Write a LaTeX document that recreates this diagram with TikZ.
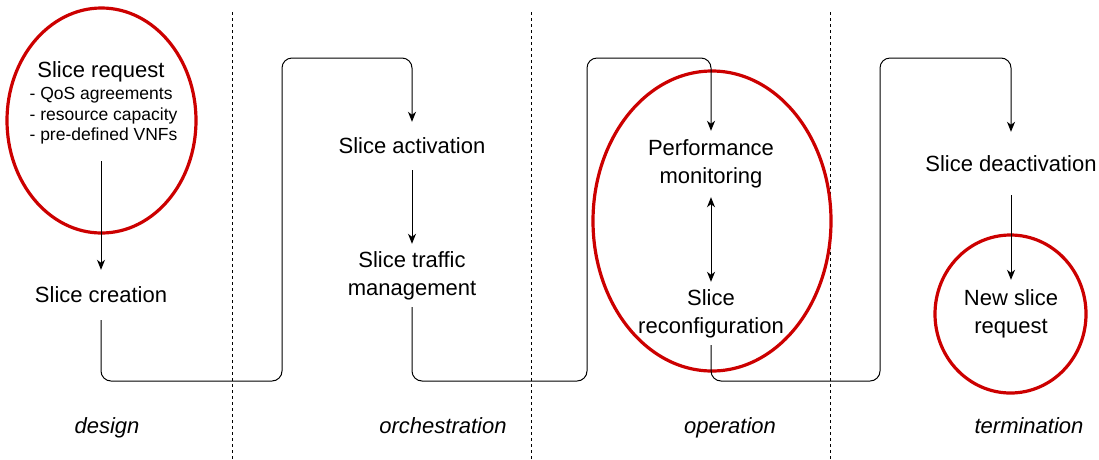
\documentclass[tikz,border=0pt]{standalone}
\usepackage{fontspec}
\setmainfont{Liberation Sans}
\usetikzlibrary{arrows.meta,shapes.geometric}
\definecolor{ringred}{RGB}{204,0,0}
\tikzset{
  stage/.style={align=center,inner sep=0pt,font=\fontsize{22}{28}\selectfont},
  ring/.style={draw=ringred,line width=3.2pt,ellipse,inner sep=0pt},
  link/.style={line width=1pt,rounded corners=10pt},
  flow/.style={link,-{Stealth[length=10pt,width=8pt,inset=3pt]}},
  dflow/.style={link,{Stealth[length=10pt,width=8pt,inset=3pt]}-{Stealth[length=10pt,width=8pt,inset=3pt]}},
  phase/.style={anchor=base,font=\fontsize{22}{26}\selectfont\itshape},
  border/.style={line width=0.9pt,dash pattern=on 3pt off 3pt}
}
\begin{document}
\begin{tikzpicture}[x=1pt,y=-1pt]
  \useasboundingbox (0,0) rectangle (1099,459);
  % phase borders
  \foreach \xx in {232,531,830} \draw[border] (\xx,12) -- (\xx,459);
  % red rings
  \node[ring,minimum width=189pt,minimum height=225pt] (reqring) at (101.5,120.5) {};
  \node[ring,minimum width=238pt,minimum height=300pt] (opring) at (712,221) {};
  \node[ring,minimum width=151pt,minimum height=158pt] (newring) at (1010.5,314) {};
  % stages
  \node[stage] (reqtitle) at (101,72) {Slice request};
  \node[align=left,inner sep=0pt,font=\fontsize{17.5}{20.5}\selectfont,minimum height=90pt] (reqlist) at (103.5,116) {- QoS agreements\\- resource capacity\\- pre-defined VNFs};
  \node[stage,minimum height=50pt] (create) at (101,295) {Slice creation};
  \node[stage,minimum height=48pt] (act) at (412,146) {Slice activation};
  \node[stage,minimum height=63pt] (traffic) at (412,275.5) {Slice traffic\\management};
  \node[stage,minimum height=66pt] (perf) at (711,164) {Performance\\monitoring};
  \node[stage,minimum height=63pt] (reconf) at (711,313.5) {Slice\\reconfiguration};
  \node[stage,minimum height=63pt] (deact) at (1011,163.5) {Slice deactivation};
  \node[stage,minimum height=67pt] (newreq) at (1011,313.5) {New slice\\request};
  % bends
  \coordinate (d1) at (282,381);
  \coordinate (d2) at (282,58);
  \coordinate (o1) at (587,381);
  \coordinate (o2) at (587,58);
  \coordinate (t1) at (880,381);
  \coordinate (t2) at (880,58);
  % connectors
  \draw[flow] (reqlist.south -| create.north) -- (create.north);
  \draw[flow] (create.south) |- (d1) -- (d2) -| (act.north);
  \draw[flow] (act.south) -- (traffic.north);
  \draw[flow] (traffic.south) |- (o1) -- (o2) -| (perf.north);
  \draw[dflow] (perf.south) -- (reconf.north);
  \draw[flow] (reconf.south) |- (t1) -- (t2) -| (deact.north);
  \draw[flow] (deact.south) -- (newreq.north);
  % phase labels
  \node[phase] (design) at (107,433) {design};
  \node[phase] (orch) at (443,433) {orchestration};
  \node[phase] (oper) at (730,433) {operation};
  \node[phase] (term) at (1029,433) {termination};
\end{tikzpicture}
\end{document}
